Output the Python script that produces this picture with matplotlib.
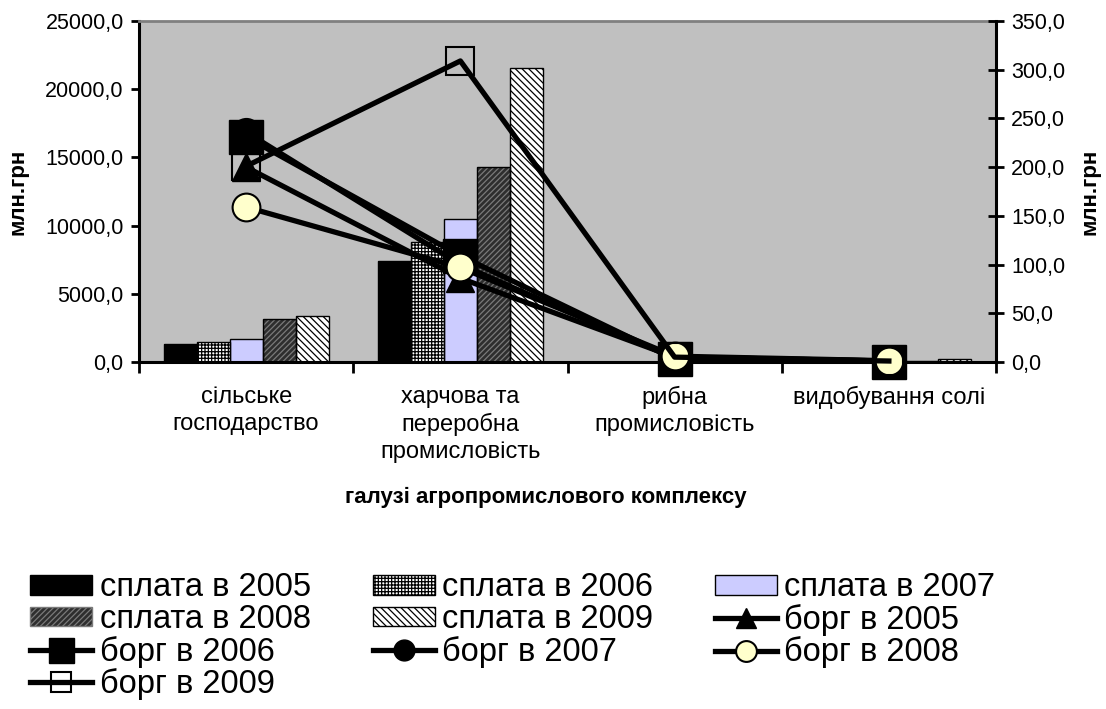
import matplotlib
matplotlib.use('Agg')
import matplotlib.pyplot as plt
from matplotlib.lines import Line2D
from matplotlib.patches import Patch
from matplotlib.ticker import FuncFormatter, FixedLocator
import numpy as np

plt.rcParams['font.family'] = ['Liberation Sans', 'DejaVu Sans']
plt.rcParams['hatch.linewidth'] = 0.9

categories = ['сільське\nгосподарство', 'харчова та\nпереробна\nпромисловість',
              'рибна\nпромисловість', 'видобування солі']

# payments, mln UAH (left axis)
pay_2005 = [1320, 7430, 30, 20]
pay_2006 = [1490, 8800, 30, 30]
pay_2007 = [1660, 10500, 30, 40]
pay_2008 = [3150, 14300, 40, 60]
pay_2009 = [3370, 21550, 50, 190]

# debt, mln UAH (right axis)
debt_2005 = [200, 86, 5, 1]
debt_2006 = [231, 109, 3, 0.5]
debt_2007 = [236, 100, 4, 1]
debt_2008 = [159, 97, 6, 1.3]
debt_2009 = [201, 309, 5, 1]

pay_labels = ['сплата в 2005', 'сплата в 2006', 'сплата в 2007', 'сплата в 2008', 'сплата в 2009']
debt_labels = ['борг в 2005', 'борг в 2006', 'борг в 2007', 'борг в 2008', 'борг в 2009']

comma = FuncFormatter(lambda v, p: f'{v:.1f}'.replace('.', ','))

fig = plt.figure(figsize=(11.06, 7.09), dpi=100)
ax = fig.add_axes([139 / 1106, 347 / 709, 857 / 1106, 341 / 709])
ax.set_facecolor('#C0C0C0')

x = np.arange(len(categories))
w = 0.154
offs = (np.arange(5) - 2) * w

# bar styles: (face, hatch, hatch colour)
bar_styles = [
    ('black', None, 'black'),
    ('white', '+++++', 'black'),
    ('#CCCCFF', None, 'black'),
    ('#2e2e2e', '//////', '#7a7a7a'),
    ('white', '\\\\\\\\\\', 'black'),
]
pays = [pay_2005, pay_2006, pay_2007, pay_2008, pay_2009]
handles = {}
for i, (vals, (fc, hatch, hc)) in enumerate(zip(pays, bar_styles)):
    ax.bar(x + offs[i], vals, w, color=fc, hatch=hatch, edgecolor=hc, linewidth=0, zorder=2)
    ax.bar(x + offs[i], vals, w, fill=False, edgecolor='black', linewidth=1.0, zorder=3)
    handles[pay_labels[i]] = Patch(facecolor=fc, hatch=hatch, edgecolor=hc if hatch else 'black',
                                   linewidth=1.0)

ax.set_xlim(-0.5, 3.5)
ax.set_ylim(0, 25000)
ax.set_yticks(np.arange(0, 25001, 5000))
ax.yaxis.set_major_formatter(comma)
ax.set_xticks(x)
ax.set_xticklabels(categories, fontsize=17, linespacing=1.3, va='top')
ax.xaxis.set_minor_locator(FixedLocator(np.arange(-0.5, 3.6, 1)))
ax.tick_params(axis='x', which='major', length=0, pad=17)
ax.tick_params(axis='x', which='minor', length=8, width=2, direction='out')
ax.tick_params(axis='y', labelsize=15.5, length=6, width=2, direction='out', pad=5)
for s in ['left', 'bottom']:
    ax.spines[s].set_linewidth(2.2)
ax.spines['right'].set_visible(False)
ax.spines['top'].set_color('#808080')
ax.spines['top'].set_linewidth(2)
ax.set_ylabel('млн.грн', fontsize=16, fontweight='bold', labelpad=12)

ax2 = ax.twinx()
ax2.set_ylim(0, 350)
ax2.set_yticks(np.arange(0, 351, 50))
ax2.yaxis.set_major_formatter(comma)
ax2.tick_params(axis='y', labelsize=15.5, length=12, width=2, direction='inout', pad=5)
ax2.spines['right'].set_linewidth(2.2)
for s in ['left', 'top', 'bottom']:
    ax2.spines[s].set_visible(False)
ax2.set_ylabel('млн.грн', fontsize=16, fontweight='bold', labelpad=10)

debt_styles = [
    dict(marker='^', ms=20, mfc='black', mec='black'),
    dict(marker='s', ms=24, mfc='black', mec='black'),
    dict(marker='o', ms=20, mfc='black', mec='black'),
    dict(marker='o', ms=20, mfc='#FFFFCC', mec='black', mew=1.5),
    dict(marker='s', ms=20, mfc='none', mec='black', mew=1.5),
]
debts = [debt_2005, debt_2006, debt_2007, debt_2008, debt_2009]
for i, (vals, st) in enumerate(zip(debts, debt_styles)):
    ax2.plot(x, vals, color='black', lw=3.8, clip_on=False, zorder=4 + i, **st)
    handles[debt_labels[i]] = Line2D([], [], color='black', lw=3.8, **st)

fig.text(546 / 1106, 1 - 497 / 709, 'галузі агропромислового комплексу',
         fontsize=16, fontweight='bold', ha='center', va='center')

# legend is filled column by column, so order entries to read row by row
order = ['сплата в 2005', 'сплата в 2008', 'борг в 2006', 'борг в 2009',
         'сплата в 2006', 'сплата в 2009', 'борг в 2007',
         'сплата в 2007', 'борг в 2005', 'борг в 2008']
fig.legend([handles[k] for k in order], order, ncol=3, frameon=False,
           loc='upper left', bbox_to_anchor=(14 / 1106, 1 - 556 / 709),
           prop={'size': 23.5}, handlelength=1.9, handleheight=0.55, handletextpad=0.22,
           columnspacing=1.9, labelspacing=0.02, markerscale=0.75, borderpad=0)

fig.savefig('out.png', dpi=100)
